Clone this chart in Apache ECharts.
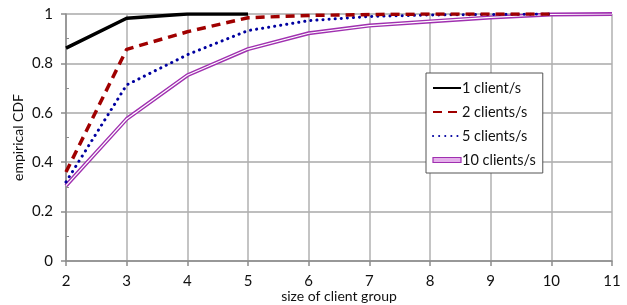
<!DOCTYPE html>
<html>
<head>
<meta charset="utf-8">
<script src="https://cdn.jsdelivr.net/npm/echarts@6/dist/echarts.min.js"></script>
<style>
  html, body { margin: 0; padding: 0; background: #fff; }
  #chart { width: 627px; height: 305px; }
</style>
</head>
<body>
<div id="chart"></div>
<script>
// group sizes on the x axis
const groupSizes = [2, 3, 4, 5, 6, 7, 8, 9, 10, 11];
// empirical CDF per arrival rate
const cdf1 = [0.862, 0.983, 1.0, 1.0];
const cdf2 = [0.36, 0.857, 0.928, 0.985, 0.994, 0.998, 1.0, 1.0, 1.0];
const cdf5 = [0.32, 0.713, 0.835, 0.933, 0.973, 0.99, 0.996, 0.998, 1.0];
const cdf10 = [0.305, 0.575, 0.752, 0.858, 0.922, 0.953, 0.97, 0.986, 0.998, 1.0];
const yTicks = ['0', '0.2', '0.4', '0.6', '0.8', '1'];

function pairs(vals) {
  return vals.map((v, i) => [groupSizes[i], v]);
}

const font = 'Lato, "Open Sans", sans-serif';
const axisGray = '#8c8c8c';
const chart = echarts.init(document.getElementById('chart'));
chart.setOption({
  animation: false,
  grid: { left: 66, right: 15, top: 14, bottom: 44, outerBoundsMode: 'none' },
  legend: {
    orient: 'vertical',
    left: 426,
    top: 73,
    itemWidth: 28,
    itemHeight: 5,
    itemGap: 6,
    padding: [6, 7, 4, 6],
    borderColor: '#555',
    borderWidth: 1,
    backgroundColor: '#fff',
    itemStyle: { opacity: 0 },
    textStyle: { fontFamily: font, fontSize: 14.5, color: '#111', padding: [0, 0, 0, -4], lineHeight: 18 },
    data: [
      '1 client/s', '2 clients/s', '5 clients/s',
      { name: '10 clients/s', icon: 'rect',
        lineStyle: { opacity: 0 },
        itemStyle: { opacity: 1, color: '#e4b0ea', borderColor: '#a030b0', borderWidth: 1.2 } }
    ]
  },
  xAxis: {
    type: 'value',
    min: 2,
    max: 11,
    interval: 1,
    name: 'size of client group',
    nameLocation: 'middle',
    nameGap: 28,
    nameMoveOverlap: false,
    nameTextStyle: { fontFamily: font, fontSize: 14, color: '#111', verticalAlign: 'top' },
    axisLine: { show: true, lineStyle: { color: axisGray, width: 1.5 } },
    axisTick: { show: true, length: 5, lineStyle: { color: axisGray, width: 1.5 } },
    axisLabel: { fontFamily: font, fontSize: 15, color: '#111', margin: 13 },
    splitLine: { show: true, lineStyle: { color: '#b0b0b0', width: 1.5 } }
  },
  yAxis: [
    {
      type: 'value',
      min: 0,
      max: 1,
      interval: 0.2,
      name: 'empirical CDF',
      nameLocation: 'middle',
      nameGap: 41,
      nameMoveOverlap: false,
      nameTextStyle: { fontFamily: font, fontSize: 14, color: '#111' },
      axisLine: { show: true, lineStyle: { color: axisGray, width: 1.5 } },
      axisTick: { show: true, length: 5, lineStyle: { color: axisGray, width: 1.5 } },
      axisLabel: {
        fontFamily: font, fontSize: 15, color: '#111', margin: 13,
        formatter: v => yTicks[Math.round(v / 0.2)]
      },
      splitLine: { show: true, lineStyle: { color: '#a8a8a8', width: 1.5 } }
    },
    {
      // minor ticks pointing into the plot
      type: 'value',
      position: 'left',
      min: 0,
      max: 1,
      interval: 0.2,
      axisLine: { show: false },
      axisTick: { show: false, inside: true },
      minorTick: { show: true, splitNumber: 2, length: 3, lineStyle: { color: axisGray } },
      axisLabel: { show: false },
      splitLine: { show: false }
    }
  ],
  series: [
    {
      name: '10 clients/s', type: 'line', data: pairs(cdf10), symbol: 'none', z: 2,
      lineStyle: { color: '#a030b0', width: 4 }
    },
    {
      name: '10 clients/s', type: 'line', data: pairs(cdf10), symbol: 'none', z: 3,
      lineStyle: { color: '#fff', width: 1.2 }
    },
    {
      name: '5 clients/s', type: 'line', data: pairs(cdf5), symbol: 'none', z: 4,
      lineStyle: { color: '#0000a0', width: 3, type: [0.1, 6], cap: 'round' }
    },
    {
      name: '2 clients/s', type: 'line', data: pairs(cdf2), symbol: 'none', z: 5,
      lineStyle: { color: '#a00000', width: 3.5, type: [9, 6] }
    },
    {
      name: '1 client/s', type: 'line', data: pairs(cdf1), symbol: 'none', z: 6,
      lineStyle: { color: '#000', width: 3.5 }
    }
  ]
});
</script>
</body>
</html>
